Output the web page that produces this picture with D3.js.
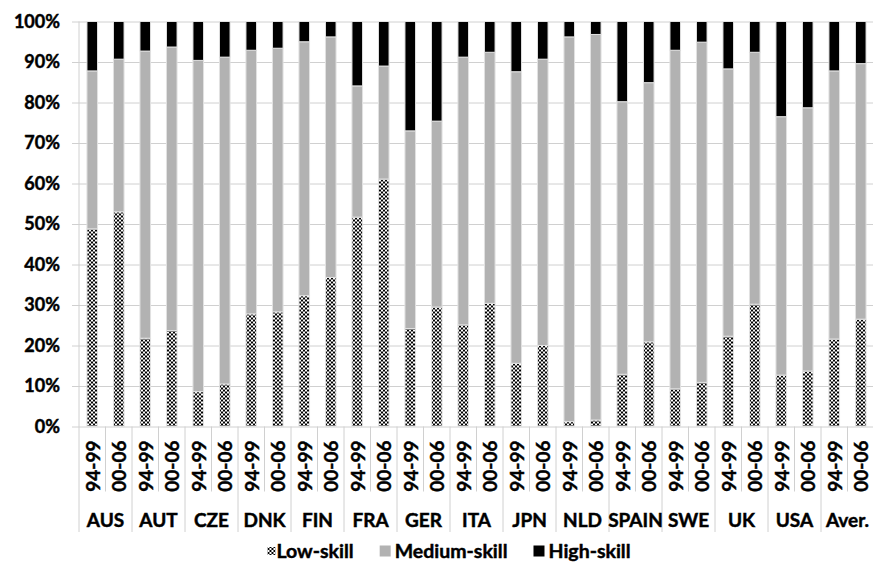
<!DOCTYPE html>
<html>
<head>
<meta charset="utf-8">
<script src="https://cdn.jsdelivr.net/npm/d3@7"></script>
<style>
  body { margin: 0; background: #fff; }
  text { font-family: Lato, "Open Sans", sans-serif; font-weight: bold; fill: #000; stroke: #000; stroke-width: 0.45px; }
</style>
</head>
<body>
<div id="chart"></div>
<script>
// data (percent of employment by skill level)
const countries = ["AUS", "AUT", "CZE", "DNK", "FIN", "FRA", "GER", "ITA", "JPN", "NLD", "SPAIN", "SWE", "UK", "USA", "Aver."];
const periods = ["94-99", "00-06"];
const lowSkill = [48.8, 53.0, 21.8, 23.7, 8.6, 10.5, 27.8, 28.3, 32.3, 36.8, 51.7, 61.1, 24.2, 29.5, 25.1,
                  30.4, 15.6, 20.0, 1.2, 1.6, 12.9, 20.9, 9.3, 10.9, 22.3, 30.2, 12.7, 13.7, 21.6, 26.5];
const mediumSkill = [39.0, 37.7, 70.9, 70.0, 81.8, 80.7, 65.1, 65.1, 62.7, 59.4, 32.4, 27.9, 48.8, 45.9, 66.1,
                     62.0, 72.0, 70.7, 95.0, 95.2, 67.3, 64.0, 83.6, 84.0, 66.0, 62.2, 63.8, 65.0, 66.2, 63.1];
const highSkill = [12.2, 9.3, 7.3, 6.3, 9.6, 8.8, 7.1, 6.6, 5.0, 3.8, 15.9, 11.0, 27.0, 24.6, 8.8,
                   7.6, 12.4, 9.3, 3.8, 3.2, 19.8, 15.1, 7.1, 5.1, 11.7, 7.6, 23.5, 21.3, 12.2, 10.4];
const yTicks = [0, 10, 20, 30, 40, 50, 60, 70, 80, 90, 100];
const seriesNames = ["Low-skill", "Medium-skill", "High-skill"];

const width = 873, height = 565;
const margin = {left: 79, top: 21.5, right: -1, bottom: 138.5};
const innerW = width - margin.left - margin.right;
const innerH = height - margin.top - margin.bottom;

// one row per bar
let rows = [];
countries.forEach((c, ci) => {
    periods.forEach((p, pi) => {
        let i = ci * 2 + pi;
        rows.push({key: c + "|" + p, country: c, period: p,
                   "Low-skill": lowSkill[i], "Medium-skill": mediumSkill[i], "High-skill": highSkill[i]});
    });
});

let svg = d3.select("#chart").append("svg")
    .attr("width", width)
    .attr("height", height);

// checkerboard fill for low-skill
let defs = svg.append("defs");
let pat = defs.append("pattern")
    .attr("id", "checker")
    .attr("patternUnits", "userSpaceOnUse")
    .attr("width", 4)
    .attr("height", 4);
pat.append("rect").attr("width", 4).attr("height", 4).attr("fill", "#fff");
pat.append("rect").attr("width", 2).attr("height", 2).attr("fill", "#000");
pat.append("rect").attr("x", 2).attr("y", 2).attr("width", 2).attr("height", 2).attr("fill", "#000");

const fills = {"Low-skill": "url(#checker)", "Medium-skill": "#b2b2b2", "High-skill": "#000"};

let g = svg.append("g")
    .attr("transform", `translate(${margin.left},${margin.top})`);

// scales
// ------------------------------------------------------
const pad = 0.6;
let x = d3.scaleBand()
    .domain(rows.map(d => d.key))
    .range([0, innerW])
    .paddingInner(pad)
    .paddingOuter(pad / 2);

let y = d3.scaleLinear()
    .domain([0, 100])
    .range([innerH, 0]);

// y axis with gridlines
// ------------------------------------------------------
let yAxis = g.append("g")
    .call(d3.axisLeft(y)
        .tickValues(yTicks)
        .tickSizeInner(-innerW)
        .tickSizeOuter(0)
        .tickPadding(19)
        .tickFormat(d => d + "%"));
yAxis.select(".domain").remove();
yAxis.selectAll(".tick line")
    .attr("x1", -7)
    .attr("stroke", "#d0d0d0");
yAxis.selectAll(".tick text")
    .attr("font-size", 18)
    .attr("font-family", "Lato")
    .attr("font-weight", "bold");

g.append("line")
    .attr("x1", 0).attr("x2", 0)
    .attr("y1", 0).attr("y2", innerH + 105.5)
    .attr("stroke", "#d0d0d0");

// bars
// ------------------------------------------------------
let stacked = d3.stack().keys(seriesNames)(rows);

g.selectAll(".series")
    .data(stacked)
    .enter()
    .append("g")
        .attr("class", "series")
        .attr("fill", s => fills[s.key])
    .selectAll("rect")
    .data(s => s)
    .enter()
    .append("rect")
        .attr("x", d => x(d.data.key))
        .attr("width", x.bandwidth())
        .attr("y", d => y(d[1]))
        .attr("height", d => y(d[0]) - y(d[1]))
        .attr("stroke", "#e2e2e2")
        .attr("stroke-width", 1);

// category axis: period labels + country groups
// ------------------------------------------------------
const step = x.step();
rows.forEach((d, i) => {
    let left = x(d.key) - step * pad / 2;
    if (i > 0) {
        g.append("line")
            .attr("x1", left).attr("x2", left)
            .attr("y1", innerH).attr("y2", innerH + (i % 2 === 0 ? 105.5 : 65))
            .attr("stroke", "#d0d0d0");
    }
});

g.selectAll(".period")
    .data(rows)
    .enter()
    .append("text")
        .attr("class", "period")
        .attr("transform", d => `translate(${x(d.key) + x.bandwidth() / 2 + 7.5},${innerH + 14}) rotate(-90)`)
        .attr("text-anchor", "end")
        .attr("font-size", 19)
        .text(d => d.period);

g.selectAll(".country")
    .data(countries)
    .enter()
    .append("text")
        .attr("class", "country")
        .attr("x", c => x(c + "|" + periods[0]) - step * pad / 2 + step)
        .attr("y", innerH + 100.5)
        .attr("text-anchor", "middle")
        .attr("font-size", 19)
        .text(c => c);

// legend
// ------------------------------------------------------
let legend = svg.append("g").attr("class", "legend");
let lx = 0;
seriesNames.forEach((name, i) => {
    let item = legend.append("g");
    let s = i === 0 ? 8 : 11;
    item.append("rect")
        .attr("x", lx)
        .attr("y", 551 - s / 2)
        .attr("width", s)
        .attr("height", s)
        .attr("fill", fills[name]);
    let tx = lx + (i === 0 ? 9 : 15);
    let t = item.append("text")
        .attr("x", tx)
        .attr("y", 558)
        .attr("font-size", 19.5)
        .text(name);
    lx = tx + t.node().getComputedTextLength() + 26;
});
let lw = legend.node().getBBox().width;
legend.attr("transform", `translate(${449 - lw / 2},0)`);
</script>
</body>
</html>
